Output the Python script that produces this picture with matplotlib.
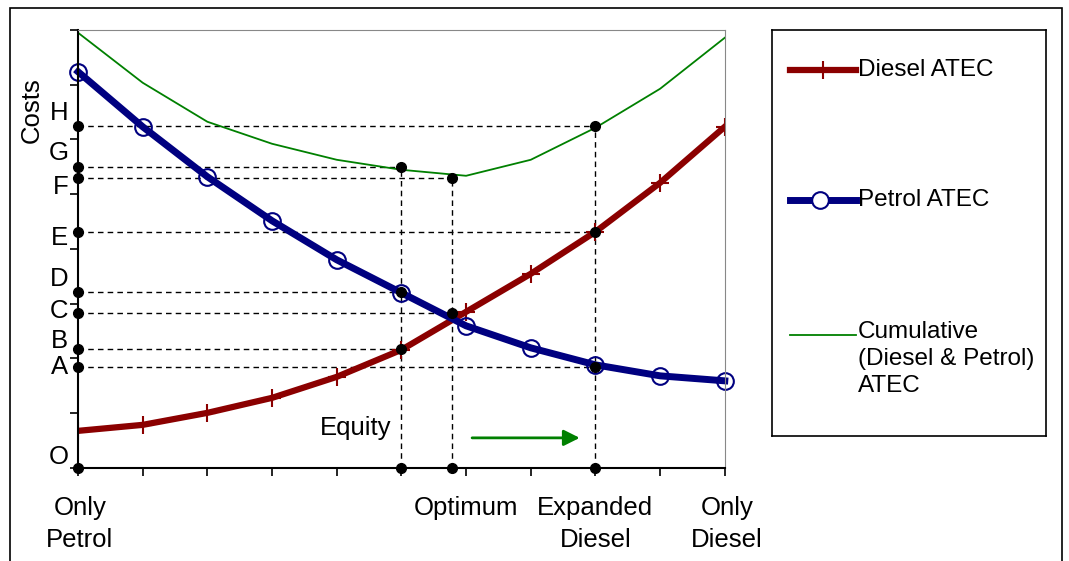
import matplotlib.pyplot as plt
import matplotlib.patches as patches
import numpy as np

plt.rcParams['font.family'] = ['Liberation Sans', 'DejaVu Sans']
FS = 18.5

x = np.arange(11)
diesel = [37, 43, 55, 70, 91, 118, 156, 194, 236, 285, 341]
petrol = [396, 341, 291, 247, 208, 175, 142, 120, 103, 92, 87]
cumulative = [435, 385, 346, 324, 308, 298, 292, 308, 340, 379, 430]

level_names = ["O", "A", "B", "C", "D", "E", "F", "G", "H"]
level_values = [0, 101, 119, 155, 176, 236, 290, 301, 342]
label_offsets = [11, 0, 8, 2, 13, -6, -9, 14, 13]

equity_x, optimum_x, expanded_x = 5, 5.78, 8
equity_pts = [301, 176, 119]
optimum_pts = [290, 155]
expanded_pts = [342, 236, 101]

fig = plt.figure(figsize=(10.69, 5.61), dpi=100)
ax = fig.add_axes([0.073, 0.166, 0.605, 0.781])
ax.set_xlim(0, 10)
ax.set_ylim(0, 438)

# dashed guides
for xv, pts in [(equity_x, equity_pts), (optimum_x, optimum_pts), (expanded_x, expanded_pts)]:
    for yv in pts:
        ax.plot([0, xv], [yv, yv], 'k--', lw=1, dashes=(4, 3))
    ax.plot([xv, xv], [0, max(pts)], 'k--', lw=1, dashes=(4, 3))

ax.plot(x, cumulative, color='#008000', lw=1.3)
ax.plot(x, diesel, color='#8b0000', lw=4.5, marker='+', ms=13, mew=1.5)
ax.plot(x, petrol, color='#000080', lw=5, marker='o', ms=12, mfc='none', mew=1.5,
        clip_on=False)

dots_x = [0] * len(level_values) + [equity_x] * 4 + [optimum_x] * 3 + [expanded_x] * 4
dots_y = level_values + equity_pts + [0] + optimum_pts + [0] + expanded_pts + [0]
ax.plot(dots_x, dots_y, 'o', color='black', ms=7, clip_on=False, zorder=5)

ax.set_yticks(np.linspace(0, 438, 9))
ax.set_yticklabels([])
ax.set_xticks(x)
ax.set_xticklabels([])
ax.tick_params(direction='out', length=6, width=1.2, color='black')
for s in ['top', 'right']:
    ax.spines[s].set_color('#888888')
for s in ['left', 'bottom']:
    ax.spines[s].set_linewidth(1.5)

for name, yv, off in zip(level_names, level_values, label_offsets):
    ax.text(-0.15, yv + off, name, fontsize=FS, ha='right', va='center')

ax.text(-0.72, 358, "Costs", rotation=90, fontsize=FS, ha='center', va='center')
ax.text(4.85, 40, "Equity", fontsize=FS, ha='right', va='center')
ax.annotate("", xy=(7.8, 30), xytext=(6.05, 30),
            arrowprops=dict(arrowstyle='-|>', color='#008000', lw=2, mutation_scale=24))

xlabels = {0.03: "Only\nPetrol", 6: "Optimum", 8: "Expanded\nDiesel", 10.03: "Only\nDiesel"}
for xv, lab in xlabels.items():
    ax.text(xv, -28, lab, fontsize=FS, ha='center', va='top', linespacing=1.45)

# legend box
lg = fig.add_axes([772 / 1069, 1 - 436 / 561, 274 / 1069, 406 / 561])
lg.set_xlim(0, 274)
lg.set_ylim(406, 0)
lg.set_xticks([])
lg.set_yticks([])
for s in lg.spines.values():
    s.set_linewidth(1.2)
lg.plot([18, 84], [40, 40], color='#8b0000', lw=4.5)
lg.plot([51], [40], marker='+', color='#8b0000', ms=13, mew=1.5)
lg.plot([18, 84], [170, 170], color='#000080', lw=5)
lg.plot([48], [170], marker='o', color='#000080', ms=12, mfc='white', mew=1.5)
lg.plot([18, 84], [305, 305], color='#008000', lw=1.3)
lg.text(86, 40, "Diesel ATEC", fontsize=17.5, va='center')
lg.text(86, 170, "Petrol ATEC", fontsize=17.5, va='center')
lg.text(86, 291, "Cumulative\n(Diesel & Petrol)\nATEC", fontsize=17.5, va='top', linespacing=1.3)

fig.patches.append(patches.Rectangle((10 / 1069, -0.01), 1052 / 1069, 1 - 8 / 561 + 0.01,
                                     transform=fig.transFigure, fill=False, lw=1.2,
                                     edgecolor='black'))

fig.savefig("out.png", dpi=100)
